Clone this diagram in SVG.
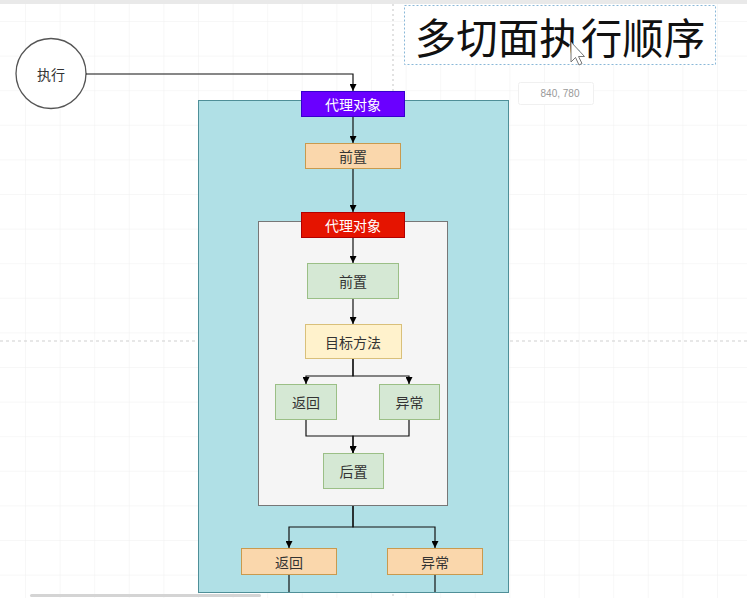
<svg xmlns="http://www.w3.org/2000/svg" width="747" height="598" viewBox="0 0 747 598">
<defs>
<pattern id="grid" x="25" y="21" width="34.6" height="34.6" patternUnits="userSpaceOnUse">
<path d="M0,0 H34.6 M0,0 V34.6" fill="none" stroke="#efefef" stroke-width="1"/>
</pattern>
<marker id="arr" viewBox="0 0 10 10" refX="10" refY="5" markerWidth="7" markerHeight="7" orient="auto" markerUnits="userSpaceOnUse">
<path d="M0,0 L10,5 L0,10 z" fill="#000"/>
</marker>
</defs>
<style>
text{font-family:"Noto Sans CJK SC","Noto Sans",sans-serif;text-anchor:middle;dominant-baseline:central}
.lbl{font-size:14px;fill:#333}
.wl{font-size:14px;fill:#fff}
.orange{fill:#fad7ac;stroke:#c99a4e;stroke-width:1}
.green{fill:#d5e8d4;stroke:#9bbf86;stroke-width:1}
.conn path{fill:none;stroke:#111;stroke-width:1.2}
</style>
<rect width="747" height="598" fill="#fff"/>
<rect width="747" height="598" fill="url(#grid)"/>
<rect x="0" y="0" width="747" height="4" fill="#e9e9e9"/>
<line x1="0" y1="341" x2="747" y2="341" stroke="#cfcfcf" stroke-width="1.2" stroke-dasharray="3,3"/>
<line x1="393" y1="4" x2="393" y2="598" stroke="#cfcfcf" stroke-width="1.2" stroke-dasharray="2,3"/>

<g id="title">
<rect x="404.5" y="5.5" width="311" height="59" fill="#fff" stroke="#8ab8d8" stroke-width="1" stroke-dasharray="2,2"/>
<text x="560" y="36" style="font-size:41.5px;fill:#111">多切面执行顺序</text>
</g>
<g id="tooltip">
<rect x="518.5" y="82.5" width="75" height="22" rx="2" fill="#fff" stroke="#f0f0f0"/>
<text x="560" y="93.5" style="font-family:'Liberation Sans',sans-serif;font-size:10px;fill:#999">840, 780</text>
</g>

<g id="outer-container">
<rect x="198.5" y="100.5" width="310" height="492" fill="#b0e0e6" stroke="#4f8f98" stroke-width="1"/>
</g>
<g id="inner-container">
<rect x="258.5" y="221.5" width="189" height="284" fill="#f5f5f5" stroke="#777" stroke-width="1"/>
</g>

<g id="exec">
<circle cx="51" cy="73.5" r="35" fill="#fff" stroke="#555" stroke-width="1.3"/>
<text class="lbl" x="51" y="73.5">执行</text>
</g>

<g class="conn" id="connectors">
<path d="M86,74 H353 V91" marker-end="url(#arr)"/>
<path d="M353,117 V143" marker-end="url(#arr)"/>
<path d="M353,169 V212" marker-end="url(#arr)"/>
<path d="M353,238 V263" marker-end="url(#arr)"/>
<path d="M353,299 V324" marker-end="url(#arr)"/>
<path d="M353,359 V376 H306 V384" marker-end="url(#arr)"/>
<path d="M353,359 V376 H409 V384" marker-end="url(#arr)"/>
<path d="M306,420 V436 H353 V453" marker-end="url(#arr)"/>
<path d="M409,420 V436 H353 V453" marker-end="url(#arr)"/>
<path d="M353,506 V527 H289 V548" marker-end="url(#arr)"/>
<path d="M353,506 V527 H435 V548" marker-end="url(#arr)"/>
<path d="M289,575 V592"/>
<path d="M435,575 V592"/>
</g>

<g id="proxy1">
<rect x="301.5" y="91.5" width="103" height="25" fill="#6a00ff" stroke="#3700cc"/>
<text class="wl" x="353" y="104">代理对象</text>
</g>
<g id="pre1">
<rect x="305.5" y="143.5" width="95" height="25" class="orange"/>
<text class="lbl" x="353" y="156">前置</text>
</g>
<g id="proxy2">
<rect x="301.5" y="212.5" width="103" height="25" fill="#e51400" stroke="#b20000"/>
<text class="wl" x="353" y="225">代理对象</text>
</g>
<g id="pre2">
<rect x="307.5" y="263.5" width="91" height="35" class="green"/>
<text class="lbl" x="353" y="281">前置</text>
</g>
<g id="target">
<rect x="305.5" y="324.5" width="96" height="34" fill="#fff2cc" stroke="#d9c07a"/>
<text class="lbl" x="353" y="341.5">目标方法</text>
</g>
<g id="ret2">
<rect x="275.5" y="384.5" width="61" height="35" class="green"/>
<text class="lbl" x="306" y="402">返回</text>
</g>
<g id="exc2">
<rect x="379.5" y="384.5" width="60" height="35" class="green"/>
<text class="lbl" x="409.5" y="402">异常</text>
</g>
<g id="post2">
<rect x="323.5" y="453.5" width="60" height="35" class="green"/>
<text class="lbl" x="353.5" y="471">后置</text>
</g>
<g id="ret1">
<rect x="241.5" y="548.5" width="95" height="26" class="orange"/>
<text class="lbl" x="289" y="561.5">返回</text>
</g>
<g id="exc1">
<rect x="387.5" y="548.5" width="95" height="26" class="orange"/>
<text class="lbl" x="435" y="561.5">异常</text>
</g>

<g id="cursor">
<path d="M571,42 L571,62 L575.5,57.5 L579,65 L582,63.5 L578.5,56.5 L584.5,56.5 Z" fill="#fff" stroke="#777" stroke-width="1"/>
</g>
<rect x="30" y="594" width="231" height="3" rx="1.5" fill="#d4d4d4"/>
</svg>
